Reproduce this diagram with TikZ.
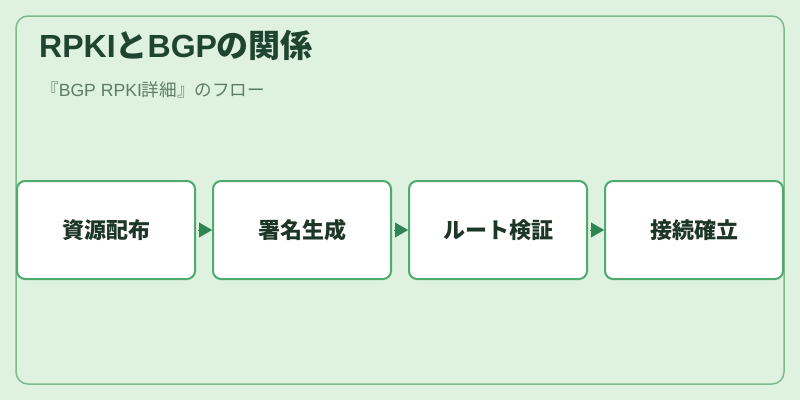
\documentclass[tikz,border=0pt]{standalone}
\usepackage{fontspec}
\setmainfont{Noto Sans CJK JP}
\newfontfamily\latinfont{Liberation Sans}
\usetikzlibrary{arrows.meta}
\definecolor{bgc}{HTML}{DFF1DF}
\definecolor{framec}{HTML}{7DBB8F}
\definecolor{boxc}{HTML}{4FAA6E}
\definecolor{arrowc}{HTML}{2E8553}
\definecolor{titlec}{HTML}{1F4430}
\definecolor{subc}{HTML}{5E7D68}
\definecolor{labelc}{HTML}{1E3628}
\tikzset{
  stepbox/.style={draw=boxc, line width=2pt, fill=white, rounded corners=8pt,
    minimum width=178pt, minimum height=98pt, inner sep=0pt,
    font=\fontsize{22}{26}\selectfont\bfseries, text=labelc},
  flow/.style={draw=arrowc, line width=0.2pt, shorten <=2pt,
    -{Triangle[length=13pt,width=15pt]}, arrowc}
}
\begin{document}
\begin{tikzpicture}[x=1pt,y=-1pt]
  \fill[bgc] (0,0) rectangle (800,400);
  \useasboundingbox (0,0) rectangle (800,400);
  \draw[framec, line width=1.5pt, rounded corners=12pt] (16,16) rectangle (784,384);
  \node[anchor=base west, text=titlec, font=\fontsize{32}{36}\selectfont\bfseries, inner sep=0pt] (title) at (39,57.5) {{\latinfont RPKI}と{\latinfont BGP}の関係};
  \node[anchor=base west, text=subc, font=\fontsize{17.6}{20}\selectfont, inner sep=0pt] (sub) at (41,96.5) {『{\latinfont BGP RPKI}詳細』のフロー};
  \node[stepbox] (a) at (106,230) {資源配布};
  \node[stepbox] (b) at (302,230) {署名生成};
  \node[stepbox] (c) at (498,230) {ルート検証};
  \node[stepbox] (d) at (694,230) {接続確立};
  \draw[flow] (a.east) -- (b.west);
  \draw[flow] (b.east) -- (c.west);
  \draw[flow] (c.east) -- (d.west);
\end{tikzpicture}
\end{document}
